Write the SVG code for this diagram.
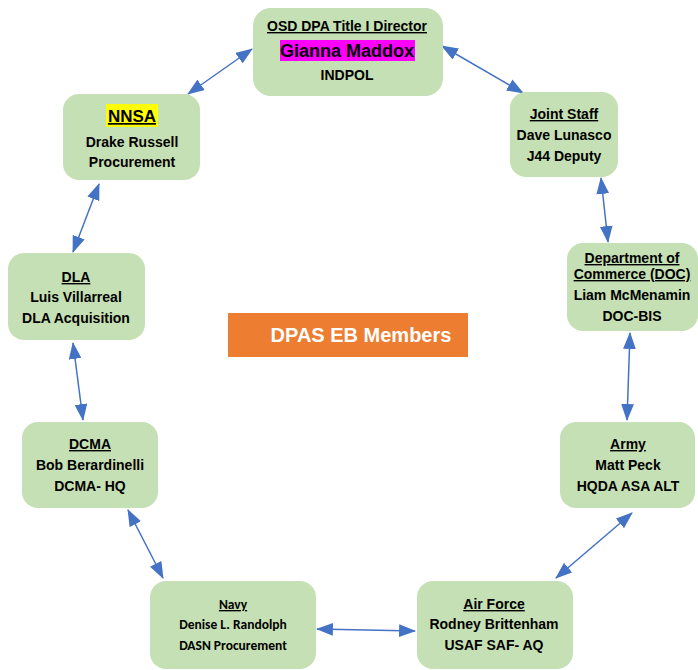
<svg xmlns="http://www.w3.org/2000/svg" width="698" height="670" viewBox="0 0 698 670">
<style>
.box{fill:#c5e0b4;}
.t{font-family:"Liberation Sans",Arial,sans-serif;font-weight:bold;font-size:14px;fill:#000;text-anchor:middle;}
.c{font-family:Carlito,Lato,"Liberation Sans",sans-serif;font-weight:bold;font-size:13.5px;fill:#000;text-anchor:middle;}
.u{text-decoration:underline;}
.conn line{stroke:#4472c4;stroke-width:1.5;marker-start:url(#ah);marker-end:url(#ah);}
</style>
<defs>
<marker id="ah" markerUnits="userSpaceOnUse" viewBox="0 0 16 12" refX="15" refY="6" markerWidth="17" markerHeight="13" orient="auto-start-reverse">
<path d="M0,0 L16,6 L0,12 Z" fill="#4472c4"/>
</marker>
</defs>
<rect width="698" height="670" fill="#fff"/>
<g class="conn">
<line x1="188" y1="94" x2="252" y2="49"/>
<line x1="442" y1="46" x2="523" y2="93"/>
<line x1="601" y1="178" x2="608" y2="242"/>
<line x1="630" y1="333" x2="627" y2="420"/>
<line x1="632" y1="513" x2="556" y2="578"/>
<line x1="415" y1="631" x2="317" y2="629"/>
<line x1="163" y1="578" x2="128" y2="510"/>
<line x1="83" y1="420" x2="73" y2="343"/>
<line x1="73" y1="252" x2="99" y2="184"/>
</g>
<g id="osd">
<rect class="box" x="253" y="8" width="190" height="88" rx="18"/>
<text class="t u" x="347" y="31">OSD DPA Title I Director</text>
<rect x="280" y="40" width="135" height="21" fill="#ff00ff"/>
<text class="t" x="347" y="57" style="font-size:18px">Gianna Maddox</text>
<text class="t" x="347" y="80">INDPOL</text>
</g>
<g id="nnsa">
<rect class="box" x="63" y="94" width="137" height="86" rx="16"/>
<rect x="106" y="104" width="52" height="23" fill="#ffff00"/>
<text class="t u" x="132" y="122" style="font-size:17px">NNSA</text>
<text class="t" x="132" y="147">Drake Russell</text>
<text class="t" x="132" y="167">Procurement</text>
</g>
<g id="joint">
<rect class="box" x="510" y="92" width="108" height="85" rx="16"/>
<text class="t u" x="564" y="119">Joint Staff</text>
<text class="t" x="564" y="140">Dave Lunasco</text>
<text class="t" x="564" y="161">J44 Deputy</text>
</g>
<g id="doc">
<rect class="box" x="567" y="243" width="131" height="88" rx="16"/>
<text class="t u" x="632" y="263">Department of</text>
<text class="t u" x="632" y="279">Commerce (DOC)</text>
<text class="t" x="632" y="300">Liam McMenamin</text>
<text class="t" x="632" y="321">DOC-BIS</text>
</g>
<g id="dla">
<rect class="box" x="8" y="253" width="137" height="87" rx="16"/>
<text class="t u" x="76" y="282">DLA</text>
<text class="t" x="76" y="302">Luis Villarreal</text>
<text class="t" x="76" y="323">DLA Acquisition</text>
</g>
<g id="dcma">
<rect class="box" x="22" y="422" width="136" height="86" rx="16"/>
<text class="t u" x="90" y="449">DCMA</text>
<text class="t" x="90" y="470">Bob Berardinelli</text>
<text class="t" x="90" y="491">DCMA- HQ</text>
</g>
<g id="army">
<rect class="box" x="560" y="422" width="135" height="86" rx="16"/>
<text class="t u" x="628" y="449">Army</text>
<text class="t" x="628" y="470">Matt Peck</text>
<text class="t" x="628" y="491">HQDA ASA ALT</text>
</g>
<g id="navy">
<rect class="box" x="150" y="581" width="166" height="88" rx="16"/>
<text class="c u" x="233" y="609">Navy</text>
<text class="c" x="233" y="629">Denise L. Randolph</text>
<text class="c" x="233" y="650">DASN Procurement</text>
</g>
<g id="airforce">
<rect class="box" x="417" y="581" width="156" height="88" rx="16"/>
<text class="t u" x="494" y="609">Air Force</text>
<text class="t" x="494" y="629">Rodney Brittenham</text>
<text class="t" x="494" y="650">USAF SAF- AQ</text>
</g>
<g id="center">
<rect x="228" y="313" width="240" height="44" fill="#ed7d31"/>
<text x="361" y="342" style="font-family:'Liberation Sans',Arial,sans-serif;font-weight:bold;font-size:20px;fill:#fff;text-anchor:middle">DPAS EB Members</text>
</g>
</svg>
